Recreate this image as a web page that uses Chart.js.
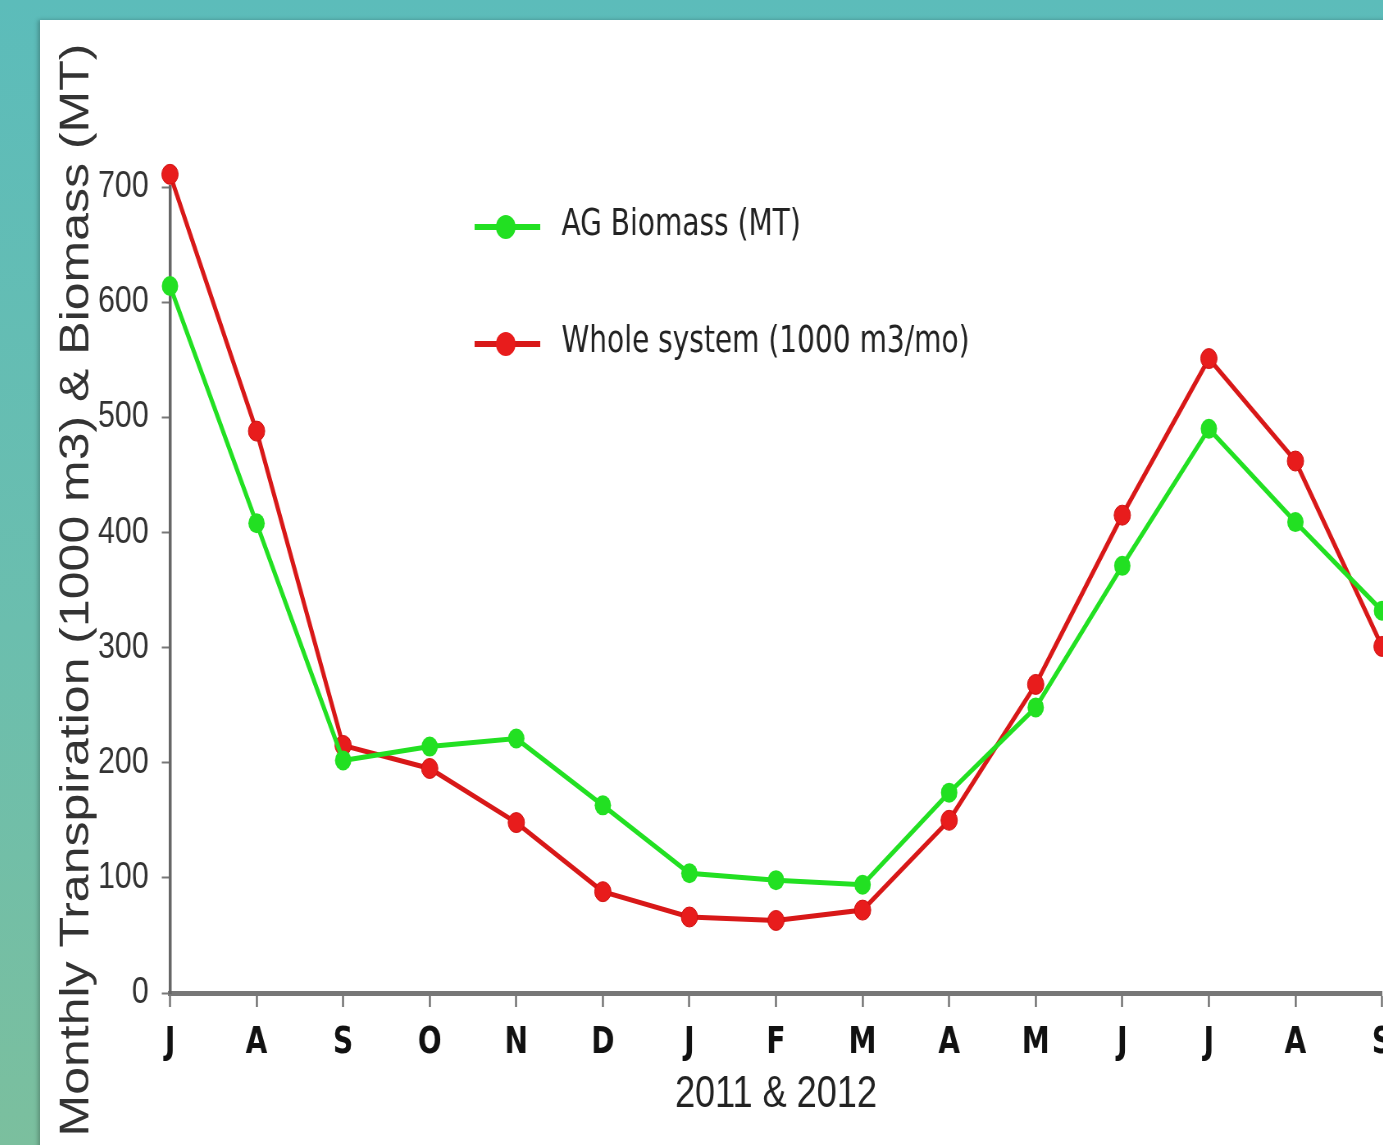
<!DOCTYPE html>
<html>
<head>
<meta charset="utf-8">
<script src="https://cdn.jsdelivr.net/npm/chart.js@4.4.1/dist/chart.umd.min.js"></script>
<style>
  html, body { margin: 0; padding: 0; width: 1383px; height: 1145px; overflow: hidden; }
  body { background: linear-gradient(180deg, #5cbcba 0%, #6bbeae 55%, #7bbf9e 100%); position: relative; }
  #panel { position: absolute; left: 40px; top: 20px; width: 1400px; height: 1200px; background: #fff; box-shadow: -2px 0 4px rgba(0,0,0,0.25); }
  /* the source picture is squeezed sideways, so the canvas is too */
  #wrap { position: absolute; left: 40px; top: 20px; width: 1700px; height: 1125px; transform: scaleX(0.82); transform-origin: 0 0; }
</style>
</head>
<body>
<div id="panel"></div>
<div id="wrap"><canvas id="chart" width="1700" height="1125"></canvas></div>
<script>
const months = ['J', 'A', 'S', 'O', 'N', 'D', 'J', 'F', 'M', 'A', 'M', 'J', 'J', 'A', 'S'];
const biomass = [614, 408, 202, 214, 221, 163, 104, 98, 94, 174, 248, 371, 490, 409, 332];
const wholeSystem = [711, 488, 215, 195, 148, 88, 66, 63, 72, 150, 268, 415, 551, 462, 301];
const yTicks = [0, 100, 200, 300, 400, 500, 600, 700];

const green = '#22e022';
const red = '#e81c1c';
const narrow = '"Liberation Sans Narrow", "DejaVu Sans Condensed", sans-serif';

// legend sits inside the plot, so draw it by hand
const insideLegend = {
    id: 'insideLegend',
    afterDraw(chart) {
        const ctx = chart.ctx;
        const rows = [207, 324];
        ctx.save();
        chart.data.datasets.forEach(function (ds, i) {
            const y = rows[i];
            ctx.strokeStyle = ds.borderColor;
            ctx.lineWidth = 6;
            ctx.beginPath();
            ctx.moveTo(530, y);
            ctx.lineTo(610, y);
            ctx.stroke();
            ctx.fillStyle = ds.pointBackgroundColor;
            ctx.beginPath();
            ctx.arc(568, y, 12, 0, Math.PI * 2);
            ctx.fill();
            ctx.fillStyle = '#222';
            ctx.font = '38px ' + narrow;
            ctx.textBaseline = 'middle';
            ctx.fillText(ds.label, 636, y - 2);
        });
        ctx.restore();
    }
};

// the first red point is above 700, let points past the top still draw
const roomOnTop = {
    id: 'roomOnTop',
    beforeDatasetsDraw(chart) { chart.chartArea.top -= 40; },
    afterDatasetsDraw(chart) { chart.chartArea.top += 40; }
};

const config = {
    type: 'line',
    data: {
        labels: months,
        datasets: [
            {
                label: 'AG Biomass (MT)',
                data: biomass,
                borderColor: green,
                backgroundColor: green,
                pointBackgroundColor: green,
                pointBorderColor: green,
                borderWidth: 5,
                pointRadius: 10,
                pointBorderWidth: 0,
                tension: 0,
                clip: false,
            },
            {
                label: 'Whole system (1000 m3/mo)',
                data: wholeSystem,
                borderColor: '#d81818',
                backgroundColor: red,
                pointBackgroundColor: red,
                pointBorderColor: '#d01010',
                borderWidth: 5,
                pointRadius: 10,
                pointBorderWidth: 1,
                tension: 0,
                clip: false,
            }
        ]
    },
    options: {
        responsive: false,
        animation: false,
        layout: {
            padding: { left: 0, top: 167, right: 63.4, bottom: 0 }
        },
        plugins: {
            legend: { display: false },
            tooltip: { enabled: false },
        },
        scales: {
            x: {
                offset: false,
                afterFit: function (scale) { scale.height = 152; },
                border: { display: true, color: '#777', width: 5 },
                grid: {
                    drawOnChartArea: false,
                    drawTicks: true,
                    tickLength: 14,
                    tickWidth: 2,
                    tickColor: '#555',
                },
                ticks: {
                    color: '#111',
                    padding: 13,
                    maxRotation: 0,
                    autoSkip: false,
                    font: { family: narrow, size: 38, weight: 'bold' },
                },
                title: {
                    display: true,
                    text: '2011 & 2012',
                    color: '#222',
                    font: { family: '"Liberation Sans", Arial, sans-serif', size: 44 },
                    padding: { top: 0, bottom: 24 },
                }
            },
            y: {
                min: 0,
                max: 700,
                afterFit: function (scale) { scale.width = 158.5; },
                afterBuildTicks: function (scale) {
                    scale.ticks = yTicks.map(function (v) { return { value: v }; });
                },
                border: { display: true, color: '#666', width: 3.5 },
                grid: {
                    drawOnChartArea: false,
                    drawTicks: true,
                    tickLength: 10,
                    tickWidth: 2,
                    tickColor: '#777',
                },
                ticks: {
                    color: '#333',
                    padding: 16,
                    font: { family: '"Liberation Sans", Arial, sans-serif', size: 37 },
                },
                title: {
                    display: true,
                    text: 'Monthly Transpiration (1000 m3) & Biomass (MT)',
                    color: '#333',
                    font: { family: '"Liberation Sans", Arial, sans-serif', size: 50 },
                    padding: { top: 15, bottom: 0 },
                }
            }
        }
    },
    plugins: [insideLegend, roomOnTop]
};

new Chart(document.getElementById('chart'), config);
</script>
</body>
</html>
